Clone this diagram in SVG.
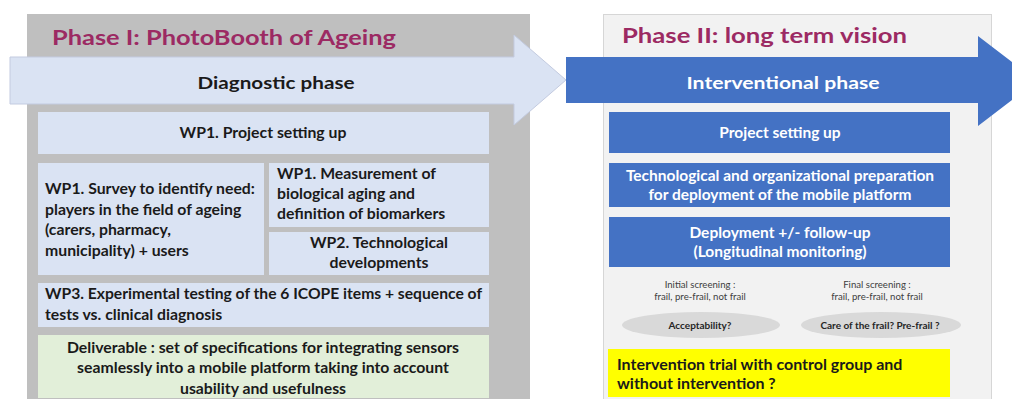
<svg xmlns="http://www.w3.org/2000/svg" width="1012" height="399" viewBox="0 0 1012 399">
<style>
.t{font-family:Lato,"Liberation Sans",sans-serif;font-weight:bold}
.title{font-size:21px;fill:#9c2a63}
.dk{fill:#1a1a1a;font-size:15.8px}
.wt{fill:#ffffff;font-size:15.5px}
.sm{font-family:Lato,"Liberation Sans",sans-serif;font-size:9.6px;fill:#404040}
.smb{font-family:Lato,"Liberation Sans",sans-serif;font-size:10px;fill:#262626;font-weight:bold}
.lb{fill:#dae3f3}
.bl{fill:#4472c4}
.c{text-anchor:middle}
</style>
<rect width="1012" height="399" fill="#ffffff"/>
<g id="phase1-panel">
<rect x="27" y="14" width="503" height="390" fill="#bfbfbf"/>
<text class="t title" x="52" y="45" textLength="344" lengthAdjust="spacingAndGlyphs">Phase I: PhotoBooth of Ageing</text>
</g>
<g id="phase2-panel">
<rect x="603.5" y="14.5" width="388" height="390" fill="#f2f2f2" stroke="#d6d6d6" stroke-width="1"/>
<text class="t title" x="622" y="43" textLength="285" lengthAdjust="spacingAndGlyphs">Phase II: long term vision</text>
</g>
<g id="diagnostic-arrow">
<polygon points="10,57 514,57 514,35 566,80 514,125 514,104 10,104" fill="#dae3f3" stroke="#c3cbe0" stroke-width="1"/>
<text class="t" x="276" y="89" font-size="17.5" fill="#1a1a1a" text-anchor="middle" textLength="157" lengthAdjust="spacingAndGlyphs">Diagnostic phase</text>
</g>
<g id="interventional-arrow">
<polygon points="566,57 978,57 978,36 1037,81 978,126 978,103 566,103" fill="#4472c4"/>
<text class="t" x="783" y="89" font-size="17.5" fill="#ffffff" text-anchor="middle" textLength="193" lengthAdjust="spacingAndGlyphs">Interventional phase</text>
</g>
<g id="wp1-setup">
<rect class="lb" x="38" y="112" width="451" height="42"/>
<text class="t dk c" x="263" y="138">WP1. Project setting up</text>
</g>
<g id="wp1-survey">
<rect class="lb" x="38" y="163" width="226" height="112"/>
<text class="t dk" x="45"><tspan x="45" y="194">WP1. Survey to identify need:</tspan><tspan x="45" y="215">players in the field of ageing</tspan><tspan x="45" y="235">(carers, pharmacy,</tspan><tspan x="45" y="256">municipality) + users</tspan></text>
</g>
<g id="wp1-measurement">
<rect class="lb" x="269" y="163" width="220" height="64"/>
<text class="t dk" x="277"><tspan x="277" y="179">WP1. Measurement of</tspan><tspan x="277" y="199">biological aging and</tspan><tspan x="277" y="219">definition of biomarkers</tspan></text>
</g>
<g id="wp2-tech">
<rect class="lb" x="269" y="232" width="220" height="43"/>
<text class="t dk c" x="379"><tspan x="379" y="248">WP2. Technological</tspan><tspan x="379" y="268">developments</tspan></text>
</g>
<g id="wp3-testing">
<rect class="lb" x="38" y="283" width="451" height="44"/>
<text class="t dk" x="45"><tspan x="45" y="299" textLength="437" lengthAdjust="spacingAndGlyphs">WP3. Experimental testing of the 6 ICOPE items + sequence of</tspan><tspan x="45" y="320">tests vs. clinical diagnosis</tspan></text>
</g>
<g id="deliverable">
<rect x="38" y="335" width="451" height="63" fill="#e2efd9"/>
<text class="t dk c" x="263"><tspan x="263" y="353">Deliverable : set of specifications for integrating sensors</tspan><tspan x="263" y="373">seamlessly into a mobile platform taking into account</tspan><tspan x="263" y="394">usability and usefulness</tspan></text>
</g>
<g id="project-setup">
<rect class="bl" x="609" y="112" width="341" height="41"/>
<text class="t wt c" x="780" y="138">Project setting up</text>
</g>
<g id="tech-org-prep">
<rect class="bl" x="609" y="163" width="341" height="44"/>
<text class="t wt c" x="780"><tspan x="780" y="181">Technological and organizational preparation</tspan><tspan x="780" y="200">for deployment of the mobile platform</tspan></text>
</g>
<g id="deployment">
<rect class="bl" x="609" y="217" width="341" height="50"/>
<text class="t wt c" x="780"><tspan x="780" y="238">Deployment +/- follow-up</tspan><tspan x="780" y="257">(Longitudinal monitoring)</tspan></text>
</g>
<g id="initial-screening">
<text class="sm c" x="700"><tspan x="700" y="288">Initial screening :</tspan><tspan x="700" y="300">frail, pre-frail, not frail</tspan></text>
</g>
<g id="final-screening">
<text class="sm c" x="877"><tspan x="877" y="288">Final screening :</tspan><tspan x="877" y="300">frail, pre-frail, not frail</tspan></text>
</g>
<g id="acceptability">
<ellipse cx="701" cy="325" rx="79" ry="13" fill="#d9d9d9"/>
<text class="smb c" x="700" y="328.5">Acceptability?</text>
</g>
<g id="care-frail">
<ellipse cx="881" cy="325" rx="80" ry="13" fill="#d9d9d9"/>
<text class="smb c" x="880" y="328.5">Care of the frail? Pre-frail ?</text>
</g>
<g id="intervention-trial">
<rect x="608" y="349" width="342" height="48" fill="#ffff00"/>
<text class="t" x="617" font-size="16" fill="#1a1a1a"><tspan x="617" y="370">Intervention trial with control group and</tspan><tspan x="617" y="389">without intervention ?</tspan></text>
</g>
</svg>
